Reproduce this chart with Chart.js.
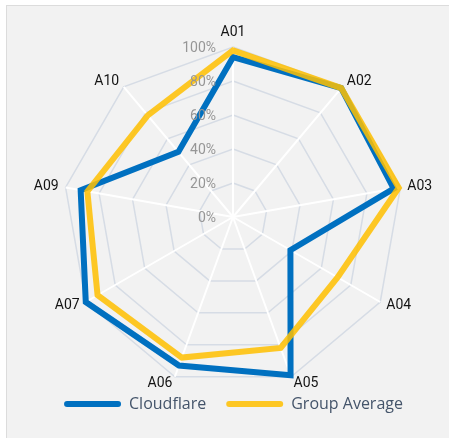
<!DOCTYPE html>
<html><head><meta charset="utf-8">
<script src="https://cdn.jsdelivr.net/npm/chart.js@4"></script>
<style>
html,body{margin:0;padding:0;background:#fff;overflow:hidden;}
#panel{position:absolute;left:6px;top:5px;width:460px;height:450px;background:#f2f2f2;border:1px solid #dcdcdc;}
#wrap{position:absolute;left:0;top:0;width:449px;height:438px;}
</style></head><body>
<div id="panel"></div>
<div id="wrap"><canvas id="c" width="449" height="438"></canvas></div>
<script>
const categories = ['A01','A02','A03','A04','A05','A06','A07','A09','A10'];
const cloudflare = [94, 99, 96, 39, 99, 93, 100, 91, 50];
const groupAverage = [98, 99, 99, 71, 82, 88, 92, 87, 78];
const seriesNames = ['Cloudflare', 'Group Average'];
const tickMin = 0, tickMax = 100, tickStep = 20;

const labelPlugin = {
  id: 'radarLabels',
  afterLayout(chart) {
    if (chart.legend) { chart.legend.top -= 11; chart.legend.bottom -= 11; }
  },
  afterDatasetsDraw(chart) {
    const s = chart.scales.r;
    const ctx = chart.ctx;
    ctx.save();
    ctx.font = '14px Roboto';
    ctx.fillStyle = '#969696';
    ctx.textAlign = 'right';
    ctx.textBaseline = 'middle';
    s.ticks.forEach(t => {
      const d = s.getDistanceFromCenterForValue(t.value);
      ctx.fillText(t.label, s.xCenter - 17, s.yCenter - d + 1);
    });
    ctx.fillStyle = '#141414';
    categories.forEach((lab, i) => {
      const p = s.getPointPosition(i, s.drawingArea + 7);
      const a = Math.round(s.getIndexAngle(i) * 180 / Math.PI) % 360;
      let y = p.y;
      if (a === 0) { ctx.textAlign = 'center'; y = p.y - 8; }
      else if (a < 180) ctx.textAlign = 'left';
      else ctx.textAlign = 'right';
      ctx.fillText(lab, p.x, y);
    });
    ctx.restore();
  }
};

new Chart(document.getElementById('c'), {
  type: 'radar',
  data: {
    labels: categories,
    datasets: [
      { label: seriesNames[0], data: cloudflare, borderColor: '#0070C0', backgroundColor: '#0070C0',
        borderWidth: 6, pointRadius: 0, pointHoverRadius: 0, fill: false, order: 1, borderJoinStyle: 'miter' },
      { label: seriesNames[1], data: groupAverage, borderColor: 'rgba(255,192,0,0.85)', backgroundColor: 'rgba(255,192,0,0.85)',
        borderWidth: 6, pointRadius: 0, pointHoverRadius: 0, fill: false, order: 0, borderJoinStyle: 'miter' }
    ]
  },
  options: {
    responsive: false,
    animation: false,
    layout: { padding: { left: 18, right: 0, top: 47, bottom: 5 } },
    scales: {
      r: {
        min: tickMin, max: tickMax,
        ticks: { stepSize: tickStep, display: false, callback: v => v + '%' },
        pointLabels: { display: false },
        grid: { color: '#d6dce5', lineWidth: 1.5 },
        angleLines: { color: '#ffffff', lineWidth: 2 }
      }
    },
    plugins: {
      tooltip: { enabled: false },
      legend: {
        position: 'bottom',
        labels: {
          font: { family: 'Open Sans', size: 16 },
          color: '#44546a',
          boxWidth: 57, boxHeight: 6, padding: 20,
          useBorderRadius: true, borderRadius: 3,
          generateLabels: chart => chart.data.datasets.map((d, i) => ({
            text: d.label, fillStyle: d.borderColor, strokeStyle: d.borderColor,
            lineWidth: 0, borderRadius: 3, datasetIndex: i, hidden: false, fontColor: '#44546a'
          }))
        }
      }
    }
  },
  plugins: [labelPlugin]
});
</script>
</body></html>
